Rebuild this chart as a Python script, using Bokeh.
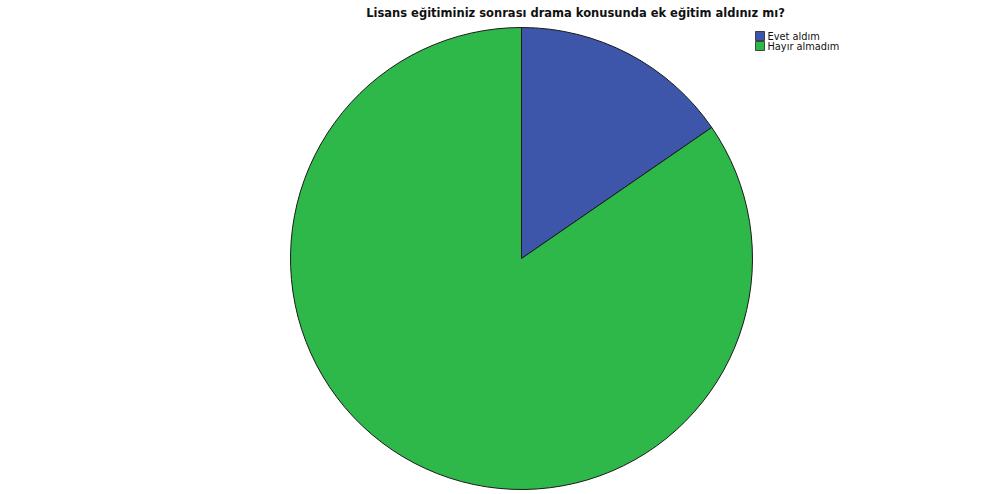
import math
from bokeh.plotting import figure
from bokeh.models import Range1d, ColumnDataSource
from bokeh.core.properties import value
from bokeh.embed import file_html
from bokeh.resources import INLINE

title_text = "Lisans eğitiminiz sonrası drama konusunda ek eğitim aldınız mı?"
categories = ["Evet aldım", "Hayır almadım"]
percents = [15.4, 84.6]
colors = ["#3e56a9", "#2fb84a"]

W, H = 984, 494
cx, cy, r = 521, H - 258, 231

p = figure(width=W, height=H, x_range=Range1d(0, W), y_range=Range1d(0, H),
           output_backend="svg", toolbar_location=None, min_border=0)
p.axis.visible = False
p.grid.visible = False
p.outline_line_color = None
p.background_fill_color = "white"

total = sum(percents)
starts, ends = [], []
acc = 0.0
for v in percents:
    a0 = math.pi / 2 - 2 * math.pi * acc / total
    acc += v
    a1 = math.pi / 2 - 2 * math.pi * acc / total
    starts.append(a0)
    ends.append(a1)

src = ColumnDataSource(dict(start=starts, end=ends, color=colors, cat=categories))
p.wedge(x=cx, y=cy, radius=r, start_angle="start", end_angle="end", direction="clock",
        fill_color="color", line_color="#1a1a1a", line_width=1, source=src)

p.text(x=[575], y=[H - 12], text=[title_text], text_align="center", text_baseline="middle",
       text_font=value("DejaVu Sans"), text_font_style="bold", text_font_size="11.5px",
       text_color="#111111")

# legend
lx = 755
ly = [H - 35.5, H - 45.5]
p.rect(x=[lx + 4.5] * 2, y=ly, width=9, height=9, fill_color=colors, line_color="#222222", line_width=0.8)
p.text(x=[lx + 12] * 2, y=ly, text=categories, text_align="left", text_baseline="middle",
       text_font=value("DejaVu Sans"), text_font_size="9.8px", text_color="#111111")

open("out.html", "w").write(file_html(p, INLINE))
